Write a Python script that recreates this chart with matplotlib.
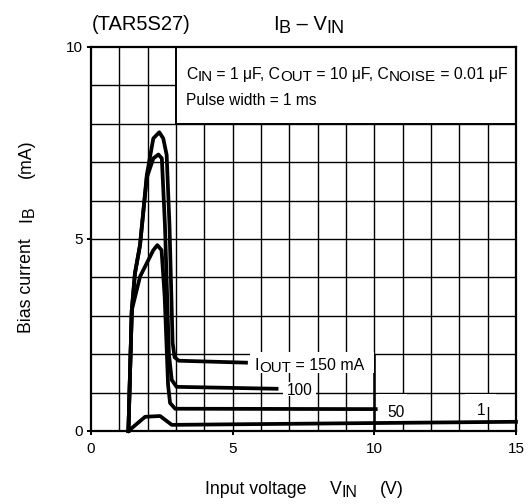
import matplotlib
matplotlib.use("Agg")
import matplotlib.pyplot as plt
from matplotlib.patches import Rectangle
from matplotlib.transforms import IdentityTransform

plt.rcParams['font.family'] = ['Liberation Sans', 'DejaVu Sans']

# ---- data ----
v_150 = [1.32, 1.44, 1.55, 1.73, 1.97, 2.20, 2.41, 2.55, 2.67, 2.77, 2.88, 2.95, 3.10, 5.47]
i_150 = [0.00, 3.15, 4.10, 4.84, 6.67, 7.62, 7.78, 7.62, 7.19, 5.36, 2.30, 1.92, 1.83, 1.78]

v_100 = [1.32, 1.44, 1.55, 1.73, 1.97, 2.20, 2.38, 2.50, 2.61, 2.75, 2.85, 3.02, 6.55]
i_100 = [0.00, 3.15, 4.10, 4.84, 6.60, 7.10, 7.20, 7.10, 5.36, 2.00, 1.33, 1.15, 1.10]

v_50 = [1.32, 1.44, 1.73, 2.20, 2.34, 2.49, 2.60, 2.72, 2.79, 2.97, 10.05]
i_50 = [0.00, 3.15, 4.02, 4.71, 4.84, 4.71, 3.50, 1.20, 0.73, 0.58, 0.57]

v_1 = [1.32, 1.91, 2.44, 2.85, 15.0]
i_1 = [0.00, 0.37, 0.39, 0.16, 0.24]

series_labels = ['150 mA', '100', '50', '1']
x_ticks = [0, 5, 10, 15]
y_ticks = [0, 5, 10]

W, H = 532, 504
fig = plt.figure(figsize=(W / 100, H / 100), dpi=100)
ax = fig.add_axes([91 / W, 1 - 431 / H, (516 - 91) / W, (431 - 47) / H])
ax.set_xlim(0, 15)
ax.set_ylim(0, 10)
renderer = fig.canvas.get_renderer()


def rich(x, y, pieces, size, rot=0, zorder=5, sub_scale=0.9, drop=0.16):
    """Draw text pieces (string, is_sub) starting at pixel (x, y) baseline (bottom-origin)."""
    cur = 0.0
    em = size * 100 / 72.0
    for s, sub in pieces:
        fs = size * sub_scale if sub else size
        d = drop * em if sub else 0.0
        if rot == 0:
            px, py = x + cur, y - d
        else:
            px, py = x + d, y + cur
        t = fig.text(px, py, s, fontsize=fs, ha='left', va='baseline', rotation=rot,
                     rotation_mode='anchor', transform=IdentityTransform(), zorder=zorder)
        ext = t.get_window_extent(renderer)
        cur += ext.width if rot == 0 else ext.height


# grid every 1 V / 1 mA
for gx in range(1, 15):
    ax.axvline(gx, color='black', lw=1.0, zorder=1)
for gy in range(1, 10):
    ax.axhline(gy, color='black', lw=1.0, zorder=1)
ax.plot([10, 10], [0, 2], color='black', lw=1.8, zorder=1.5, solid_capstyle='butt')

# white masks behind labels
for (x0, y0, w, h) in [(5.6, 1.52, 4.4, 0.53), (6.78, 0.90, 1.16, 0.38),
                        (10.08, 0.24, 1.07, 0.73), (13.2, 0.62, 1.1, 0.35)]:
    ax.add_patch(Rectangle((x0, y0), w, h, facecolor='white', edgecolor='none', zorder=2))

# condition box
ax.add_patch(Rectangle((3, 8), 12, 2, facecolor='white', edgecolor='black', lw=1.4, zorder=2.5))

# curves
for v, i in [(v_150, i_150), (v_100, i_100), (v_50, i_50), (v_1, i_1)]:
    ax.plot(v, i, color='black', lw=2.7, zorder=4, solid_joinstyle='round', clip_on=False)

ax.set_xticks(x_ticks)
ax.set_yticks(y_ticks)
ax.set_xticklabels([str(t) for t in x_ticks])
ax.set_yticklabels([str(t) for t in y_ticks])
ax.tick_params(axis='both', length=3, width=1.4, labelsize=11, color='black')
ax.tick_params(axis='x', pad=5)
ax.tick_params(axis='y', pad=3)
for s in ax.spines.values():
    s.set_linewidth(1.6)
    s.set_zorder(6)

rich(186, 425, [('C', False), ('IN', True), (' = 1 μF, C', False), ('OUT', True),
                (' = 10 μF, C', False), ('NOISE', True), (' = 0.01 μF', False)], 11.35,
     sub_scale=0.96, drop=0.12)
rich(186, 399, [('Pulse width = 1 ms', False)], 11.2)

# curve labels
rich(255, 134, [('I', False), ('OUT', True), (' = ' + series_labels[0], False)], 11.5,
     sub_scale=0.95, drop=0.12)
rich(287, 109, [(series_labels[1], False)], 11.2)
rich(387, 87, [(series_labels[2], False)], 11.2)
rich(477, 89, [(series_labels[3], False)], 11.2)

# titles
rich(92, 474, [('(TAR5S27)', False)], 14.5)
rich(273, 474, [('I', False), ('B', True), (' – V', False), ('IN', True)], 14.5)

# x label pieces
rich(205, 10, [('Input voltage', False)], 12.8)
rich(330, 10, [('V', False), ('IN', True)], 12.8)
rich(380, 10, [('(V)', False)], 12.8)

# y label pieces (rotated)
rich(31, 171, [('Bias current', False)], 12.8, rot=90)
rich(31, 282, [('I', False), ('B', True)], 12.8, rot=90)
rich(31, 326, [('(mA)', False)], 12.8, rot=90)

fig.savefig('out.png', dpi=100, facecolor='white')
